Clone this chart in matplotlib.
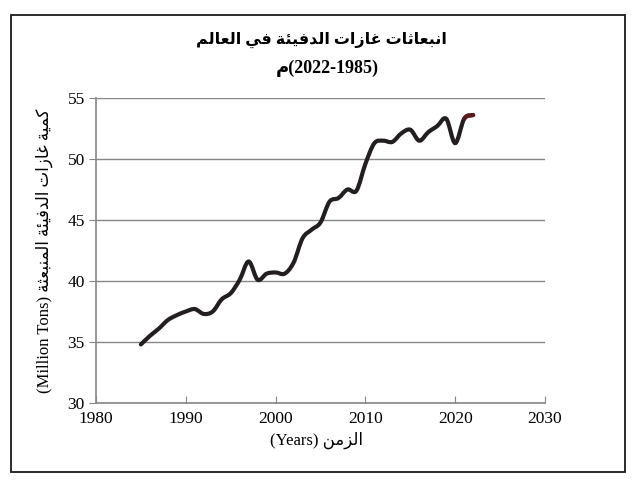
import matplotlib
matplotlib.use("Agg")
import matplotlib.pyplot as plt
import numpy as np
from matplotlib.path import Path
from matplotlib.patches import PathPatch, Rectangle

years = [1985, 1986, 1987, 1988, 1989, 1990, 1991, 1992, 1993, 1994,
         1995, 1996, 1997, 1998, 1999, 2000, 2001, 2002, 2003, 2004,
         2005, 2006, 2007, 2008, 2009, 2010, 2011, 2012, 2013, 2014,
         2015, 2016, 2017, 2018, 2019, 2020, 2021, 2022]
emissions = [34.8, 35.5, 36.1, 36.8, 37.2, 37.5, 37.7, 37.3, 37.5, 38.5,
             39.0, 40.1, 41.6, 40.1, 40.6, 40.7, 40.6, 41.5, 43.5, 44.2,
             44.8, 46.5, 46.8, 47.5, 47.4, 49.6, 51.3, 51.5, 51.4, 52.1,
             52.4, 51.5, 52.2, 52.7, 53.3, 51.3, 53.3, 53.6]
x_ticks = [1980, 1990, 2000, 2010, 2020, 2030]
y_ticks = [30, 35, 40, 45, 50, 55]

title_ar = "انبعاثات غازات الدفيئة في العالم"
subtitle_ar = "م"
subtitle_years = "(2022-1985)"
ylabel_ar = "كمية غازات الدفيئة المنبعثة"
xlabel_ar = "الزمن"

# presentation forms: (isolated, final, initial, medial)
ARABIC_FORMS = {
    "ا": (0xFE8D, 0xFE8E),
    "ب": (0xFE8F, 0xFE90, 0xFE91, 0xFE92),
    "ة": (0xFE93, 0xFE94),
    "ت": (0xFE95, 0xFE96, 0xFE97, 0xFE98),
    "ث": (0xFE99, 0xFE9A, 0xFE9B, 0xFE9C),
    "د": (0xFEA9, 0xFEAA),
    "ز": (0xFEAF, 0xFEB0),
    "ع": (0xFEC9, 0xFECA, 0xFECB, 0xFECC),
    "غ": (0xFECD, 0xFECE, 0xFECF, 0xFED0),
    "ف": (0xFED1, 0xFED2, 0xFED3, 0xFED4),
    "ك": (0xFED9, 0xFEDA, 0xFEDB, 0xFEDC),
    "ل": (0xFEDD, 0xFEDE, 0xFEDF, 0xFEE0),
    "م": (0xFEE1, 0xFEE2, 0xFEE3, 0xFEE4),
    "ن": (0xFEE5, 0xFEE6, 0xFEE7, 0xFEE8),
    "ي": (0xFEF1, 0xFEF2, 0xFEF3, 0xFEF4),
    "ئ": (0xFE89, 0xFE8A, 0xFE8B, 0xFE8C),
}


def shape_arabic(text):
    """Join letters and put them in visual (left to right) order."""
    out = []
    for i, ch in enumerate(text):
        forms = ARABIC_FORMS.get(ch)
        if forms is None:
            out.append(ch)
            continue
        prev = text[i - 1] if i > 0 else ""
        nxt = text[i + 1] if i + 1 < len(text) else ""
        joins_prev = len(ARABIC_FORMS.get(prev, ())) == 4
        joins_next = len(forms) == 4 and nxt in ARABIC_FORMS
        if joins_prev and joins_next:
            code = forms[3]
        elif joins_prev:
            code = forms[1]
        elif joins_next:
            code = forms[2]
        else:
            code = forms[0]
        out.append(chr(code))
    return "".join(reversed(out))


def smooth_path(xs, ys):
    """Excel-like smoothed line as cubic bezier segments."""
    pts = np.column_stack([xs, ys]).astype(float)
    verts = [pts[0]]
    codes = [Path.MOVETO]
    n = len(pts)
    for i in range(n - 1):
        p0 = pts[max(i - 1, 0)]
        p1 = pts[i]
        p2 = pts[i + 1]
        p3 = pts[min(i + 2, n - 1)]
        verts += [p1 + (p2 - p0) / 6.0, p2 - (p3 - p1) / 6.0, p2]
        codes += [Path.CURVE4] * 3
    return Path(verts, codes)


FONT = ["Liberation Serif", "DejaVu Sans"]
plt.rcParams["font.family"] = FONT
GRID = "#868686"

fig = plt.figure(figsize=(6.39, 4.88), dpi=100)
ax = fig.add_axes([96 / 639, 1 - 403 / 488, 449 / 639, 305 / 488])

ax.set_xlim(1980, 2030)
ax.set_ylim(30, 55)
ax.set_xticks(x_ticks)
ax.set_yticks(y_ticks)
ax.yaxis.grid(True, color=GRID, linewidth=1.0)
ax.set_axisbelow(True)
for side in ("top", "right"):
    ax.spines[side].set_visible(False)
for side in ("left", "bottom"):
    ax.spines[side].set_color(GRID)
    ax.spines[side].set_linewidth(1.2)
ax.tick_params(axis="y", direction="out", length=5, color=GRID, labelsize=12.5, pad=3)
ax.tick_params(axis="x", direction="in", length=5, color=GRID, labelsize=12.5, pad=6)

line_path = smooth_path(years, emissions)
ax.add_patch(PathPatch(line_path, facecolor="none", edgecolor="#231f20",
                       linewidth=3.0, capstyle="round", joinstyle="round"))
tail_path = smooth_path(years[-3:], emissions[-3:])
tail = Path(tail_path.vertices[3:], [Path.MOVETO] + [Path.CURVE4] * 3)
ax.add_patch(PathPatch(tail, facecolor="none", edgecolor="#5a1a1e",
                       linewidth=3.0, capstyle="round"))

fig.text(0.5035, 1 - 40 / 488, shape_arabic(title_ar), ha="center", va="center",
         fontsize=11.5, fontweight="bold", family=FONT)
fig.text(0.512, 1 - 68 / 488, shape_arabic(subtitle_ar) + subtitle_years,
         ha="center", va="center", fontsize=13, fontweight="bold", family=FONT)

ax.set_ylabel("(Million Tons) " + shape_arabic(ylabel_ar), fontsize=12)
ax.yaxis.set_label_coords(-0.095, 0.5)
ax.set_xlabel("(Years) " + shape_arabic(xlabel_ar), fontsize=12)
ax.xaxis.set_label_coords(0.49, -0.095)

fig.patches.append(Rectangle((10.5 / 639, 1 - 472 / 488), 614.5 / 639, 457 / 488,
                             transform=fig.transFigure, fill=False,
                             edgecolor="#1a1a1a", linewidth=1.3))

fig.savefig("out.png", dpi=100)
